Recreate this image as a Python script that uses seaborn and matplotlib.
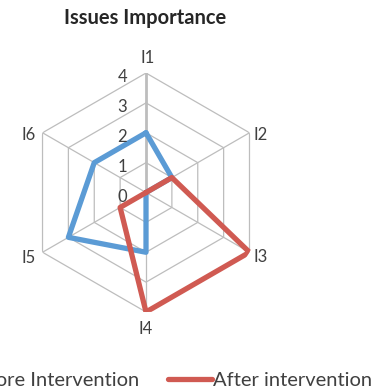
import numpy as np
import pandas as pd
import matplotlib
matplotlib.use("Agg")
import matplotlib.pyplot as plt
import seaborn as sns

# Radar chart of issue importance before and after the intervention
issues = ["I1", "I2", "I3", "I4", "I5", "I6"]
before = [2, 1, 0, 2, 3, 2]
after = [0, 1, 4, 4, 1, 0]
series_names = ["Before Intervention", "After intervention"]
scale_ticks = [0, 1, 2, 3, 4]

sns.set_theme(style="white")
plt.rcParams["font.family"] = ["Lato", "DejaVu Sans"]

n = len(issues)
angles = np.linspace(0, 2 * np.pi, n, endpoint=False)

rows = []
for name, vals in zip(series_names, [before, after]):
    for k in list(range(n)) + [0]:  # close the polygon
        rows.append({"theta": angles[k], "value": vals[k], "series": name})
df = pd.DataFrame(rows)

fig = plt.figure(figsize=(3.75, 3.89), dpi=100)
ax = fig.add_axes([0.0707, 0.1979, 0.6373, 0.6144], projection="polar")
ax.set_theta_offset(np.pi / 2)
ax.set_theta_direction(-1)
ax.set_ylim(0, scale_ticks[-1])
ax.grid(False)
ax.spines["polar"].set_visible(False)
ax.set_xticks([])
ax.set_yticks([])
ax.patch.set_alpha(0)

grid_color = "#BDBDBD"
closed = np.append(angles, angles[0])
for t in scale_ticks[1:]:
    ax.plot(closed, [t] * (n + 1), color=grid_color, lw=0.9, zorder=1)
for i, a in enumerate(angles):
    ax.plot([a, a], [0, scale_ticks[-1]], color=grid_color,
            lw=2.0 if i == 0 else 0.9, zorder=1)

palette = {"Before Intervention": "#5B9BD5", "After intervention": "#D05A52"}
sns.lineplot(data=df, x="theta", y="value", hue="series", palette=palette,
             sort=False, estimator=None, lw=3.8, ax=ax, legend=False, zorder=3)

# radial scale labels next to the I1 spoke
for t in scale_ticks:
    ax.annotate(str(t), xy=(0, t), xytext=(-17, -3), textcoords="offset points",
                ha="center", va="center", fontsize=12, color="#404040")

# category labels outside the grid
offsets = [(1.4, 10.8), (8.3, -1.5), (8.3, -3.6), (0, -12.5), (-9.7, -4), (-9.7, -1.5)]
for a, lab, off in zip(angles, issues, offsets):
    ax.annotate(lab, xy=(a, scale_ticks[-1]), xytext=off, textcoords="offset points",
                ha="center", va="center", fontsize=12, color="#404040",
                annotation_clip=False)

fig.text(0.387, 0.953, "Issues Importance", ha="center", va="center",
         fontsize=14.5, fontweight="bold", color="#262626")

handles = [plt.Line2D([], [], color=palette[s], lw=3.8) for s in series_names]
fig.legend(handles, series_names, loc="center", bbox_to_anchor=(0.389, 0.022),
           ncol=2, frameon=False, fontsize=14.5, handlelength=2.2,
           handletextpad=0.05, columnspacing=1.4, labelcolor="#404040")

fig.savefig("out.png", dpi=100)
